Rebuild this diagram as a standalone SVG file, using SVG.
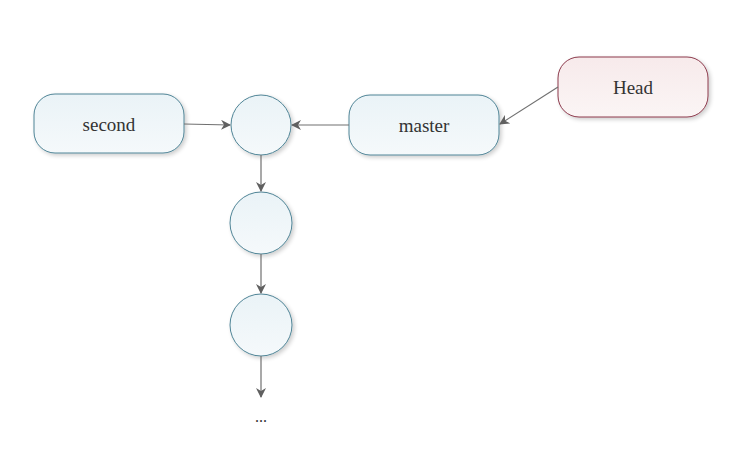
<svg xmlns="http://www.w3.org/2000/svg" width="734" height="465" viewBox="0 0 734 465">
<defs>
<linearGradient id="gb" x1="0" y1="0" x2="0" y2="1">
<stop offset="0" stop-color="#eaf3f7"/>
<stop offset="1" stop-color="#f5f9fb"/>
</linearGradient>
<linearGradient id="gr" x1="0" y1="0" x2="0" y2="1">
<stop offset="0" stop-color="#f7eaeb"/>
<stop offset="1" stop-color="#fbf5f5"/>
</linearGradient>
<filter id="sh" x="-20%" y="-20%" width="150%" height="150%">
<feGaussianBlur in="SourceAlpha" stdDeviation="2"/>
<feOffset dx="2" dy="2" result="b"/>
<feComponentTransfer><feFuncA type="linear" slope="0.2"/></feComponentTransfer>
<feMerge><feMergeNode/><feMergeNode in="SourceGraphic"/></feMerge>
</filter>
<marker id="ah" viewBox="0 0 10 10" refX="9" refY="5" markerWidth="10" markerHeight="10" markerUnits="userSpaceOnUse" orient="auto">
<path d="M0,0 L10,5 L0,10 L3,5 Z" fill="#606060"/>
</marker>
</defs>
<style>
.blue{fill:url(#gb);stroke:#4f8496;stroke-width:1;filter:url(#sh)}
.red{fill:url(#gr);stroke:#8c3a4c;stroke-width:1;filter:url(#sh)}
.lbl{font-family:"Liberation Serif",serif;font-size:19px;fill:#333;text-anchor:middle}
.con line{stroke:#707070;stroke-width:1.2;marker-end:url(#ah)}
</style>
<rect width="734" height="465" fill="#ffffff"/>
<g id="second"><rect class="blue" x="34" y="94" width="150" height="59" rx="21"/><text class="lbl" x="109" y="131">second</text></g>
<g id="master"><rect class="blue" x="349" y="95" width="150" height="60" rx="21"/><text class="lbl" x="424" y="132">master</text></g>
<g id="head"><rect class="red" x="558" y="57" width="150" height="60" rx="21"/><text class="lbl" x="633" y="94">Head</text></g>
<g id="c1"><circle class="blue" cx="261" cy="125" r="30"/></g>
<g id="c2"><circle class="blue" cx="261" cy="223" r="31"/></g>
<g id="c3"><circle class="blue" cx="261" cy="325" r="31"/></g>
<g id="more"><text class="lbl" x="261" y="422" style="font-size:16px">...</text></g>
<g class="con">
<line x1="184" y1="124" x2="230" y2="125"/>
<line x1="349" y1="125" x2="292" y2="125"/>
<line x1="558" y1="87" x2="500" y2="124"/>
<line x1="261" y1="155" x2="261" y2="191"/>
<line x1="261" y1="254" x2="261" y2="293"/>
<line x1="261" y1="356" x2="261" y2="397"/>
</g>
</svg>
